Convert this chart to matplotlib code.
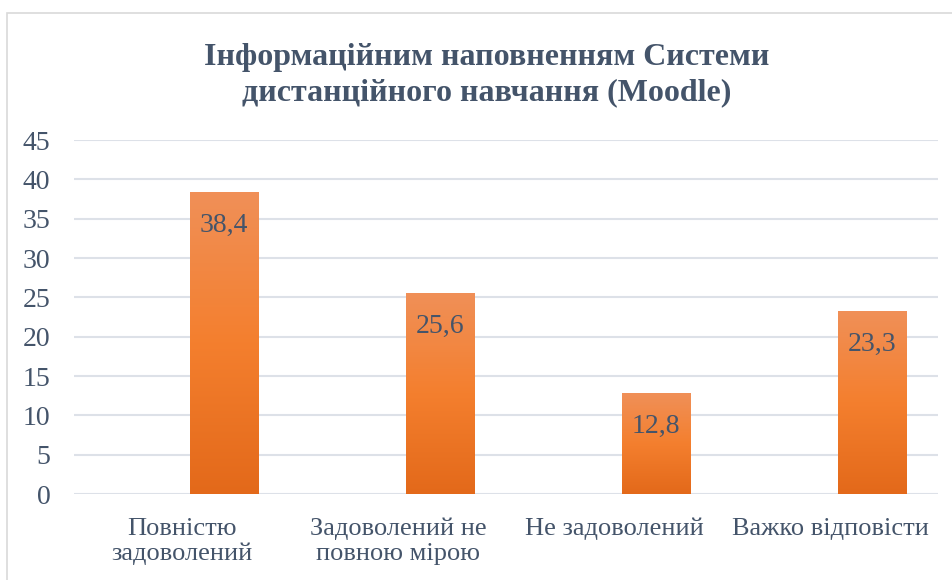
import matplotlib.pyplot as plt
import numpy as np
from matplotlib.patches import Rectangle
from matplotlib.colors import LinearSegmentedColormap

categories = ['Повністю\nзадоволений', 'Задоволений не\nповною мірою', 'Не задоволений', 'Важко відповісти']
values = [38.4, 25.6, 12.8, 23.3]
labels = ['38,4', '25,6', '12,8', '23,3']
yticks = [0, 5, 10, 15, 20, 25, 30, 35, 40, 45]

txt = '#44546A'
plt.rcParams['font.serif'] = ['Liberation Serif', 'Times New Roman', 'DejaVu Serif']
plt.rcParams['font.family'] = 'serif'

fig = plt.figure(figsize=(9.53, 5.8), dpi=100)
ax = fig.add_axes([74/953, 1-494/580, 864/953, 354/580])

# chart frame
fig.patches.append(Rectangle((7/953, -0.05), 1.0, 1-13/580+0.05, transform=fig.transFigure,
                             fill=False, edgecolor='#D9D9D9', linewidth=1.2))

x = np.arange(len(categories))
offset = 0.195
width = 0.315
bars = ax.bar(x + offset, values, width, color='#F47F2E', zorder=2)

# vertical gradient inside each bar
grad = np.linspace(0, 1, 256).reshape(-1, 1)
cmap = LinearSegmentedColormap.from_list('og', ['#E3691A', '#F47F2E', '#F09058'])
for b in bars:
    x0, w, h = b.get_x(), b.get_width(), b.get_height()
    im = ax.imshow(grad, extent=[x0, x0 + w, 0, h], origin='lower', cmap=cmap,
                   aspect='auto', zorder=3)
    im.set_clip_path(b)

for xi, v, l in zip(x, values, labels):
    ax.annotate(l, (xi + offset, v), xytext=(0, -24), textcoords='offset points',
                ha='center', va='center', fontsize=20, color=txt, zorder=4)

ax.set_xlim(-0.5, 3.5)
ax.set_ylim(0, 45)
ax.set_yticks(yticks)
ax.set_xticks(x)
ax.set_xticklabels(categories, fontsize=19, color=txt, linespacing=1.15)
ax.tick_params(axis='y', labelsize=20, colors=txt, length=0, pad=17)
ax.tick_params(axis='x', length=0, pad=17)
ax.grid(axis='y', color='#DDE1E8', linewidth=1.5, zorder=0)
ax.set_axisbelow(True)
for s in ax.spines.values():
    s.set_visible(False)

fig.text(487/953, 1-75/580, 'Інформаційним наповненням Системи\nдистанційного навчання (Moodle)',
         ha='center', va='center', fontsize=23, fontweight='bold', color=txt, linespacing=1.3)

fig.savefig('out.png', dpi=100)
